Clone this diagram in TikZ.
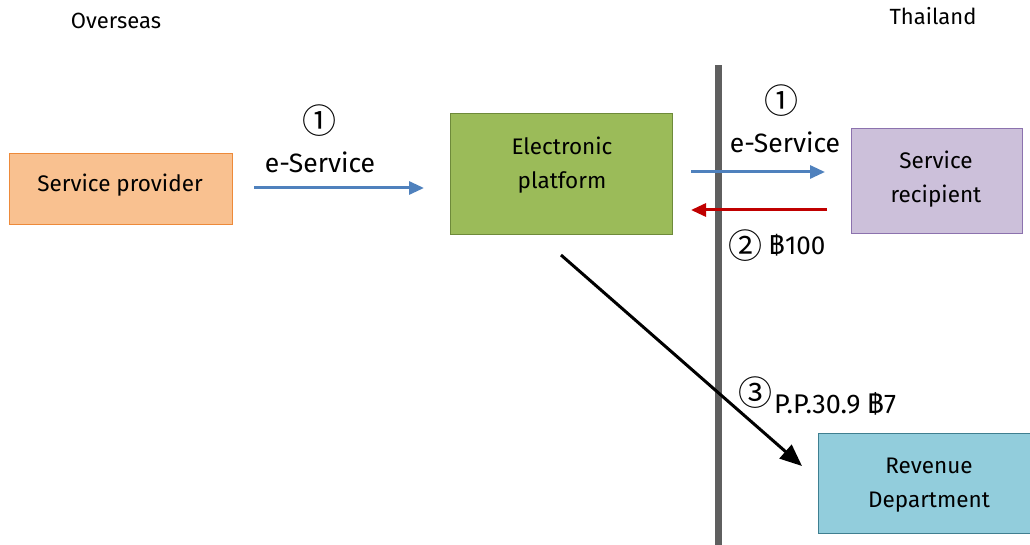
\documentclass[tikz,border=0pt]{standalone}
\usepackage{fontspec}
\setmainfont{Fira Sans}
\newfontfamily\symfont{Noto Sans CJK SC}
\newfontfamily\thaifont[Script=Thai]{Loma}
\usetikzlibrary{arrows.meta}
\definecolor{provfill}{HTML}{F9C190}
\definecolor{provdraw}{HTML}{ED8A3A}
\definecolor{platfill}{HTML}{9BBB59}
\definecolor{platdraw}{HTML}{6E8A3A}
\definecolor{recfill}{HTML}{CCC0DA}
\definecolor{recdraw}{HTML}{8C72AE}
\definecolor{revfill}{HTML}{92CDDC}
\definecolor{revdraw}{HTML}{3F7F90}
\definecolor{flowblue}{HTML}{4F81BD}
\definecolor{flowred}{HTML}{C00000}
\definecolor{bargray}{HTML}{5F5F5F}
\tikzset{
  box/.style={draw=#1, line width=1.2pt, inner sep=0pt, anchor=north west},
  lbl/.style={font=\fontsize{22.5}{26}\selectfont, inner sep=0pt},
  biglbl/.style={font=\fontsize{26.5}{30}\selectfont, inner sep=0pt},
  circ/.style={font=\symfont\fontsize{34}{36}\selectfont, inner sep=0pt},
  flow/.style={line width=3pt, -{Triangle[length=15pt,width=13pt]}},
}
\begin{document}
\begin{tikzpicture}[x=1pt,y=-1pt]
\useasboundingbox (0,0) rectangle (1030,545);
% region labels
\node[lbl, font=\fontsize{22}{26}\selectfont] (over) at (116,21) {Overseas};
\node[lbl, font=\fontsize{22}{26}\selectfont] (thai) at (933,16) {Thailand};
% border bar
\fill[bargray] (715,65) rectangle (722,545);
% boxes
\node[box=provdraw, fill=provfill, minimum width=223pt, minimum height=71pt] (prov) at (9,153) {};
\node[lbl] at (120,185) {Service provider};
\node[box=platdraw, fill=platfill, minimum width=222pt, minimum height=121pt] (plat) at (450,113) {};
\node[lbl] at (562,146) {Electronic};
\node[lbl] at (562,182) {platform};
\node[box=recdraw, fill=recfill, minimum width=171pt, minimum height=105pt] (rec) at (851,128) {};
\node[lbl] at (936,160) {Service};
\node[lbl] at (936,196) {recipient};
\node[box=revdraw, fill=revfill, minimum width=220pt, minimum height=100pt] (rev) at (818,433) {};
\node[lbl] at (929,466) {Revenue};
\node[lbl] at (929,502) {Department};
% flows
\coordinate (a1s) at (254,188);
\coordinate (a1e) at (424,188);
\draw[flow, flowblue] (a1s) -- (a1e);
\node[circ] (c1a) at (319,121) {①};
\node[biglbl] (es1) at (320,162) {e-Service};
\coordinate (a2s) at (691,172);
\coordinate (a2e) at (825,172);
\draw[flow, flowblue] (a2s) -- (a2e);
\node[circ] (c1b) at (781,101) {①};
\node[biglbl] (es2) at (785,142) {e-Service};
\coordinate (a3s) at (827,210);
\coordinate (a3e) at (691,210);
\draw[flow, flowred] (a3s) -- (a3e);
\node[circ] (c2) at (745,246) {②};
\node[lbl, font=\fontsize{26}{29}\selectfont, anchor=west] (pay) at (769,245) {{\thaifont ฿}100};
\node[circ] (c3) at (755,393) {③};
\node[lbl, font=\fontsize{27}{30}\selectfont, anchor=west] (pp) at (774,404) {P.P.30.9 {\thaifont ฿}7};
\coordinate (a4s) at (561,255);
\coordinate (a4e) at (802,466);
\draw[flow, black, line width=3pt, -{Triangle[length=22pt,width=18pt]}] (a4s) -- (a4e);
\end{tikzpicture}
\end{document}
